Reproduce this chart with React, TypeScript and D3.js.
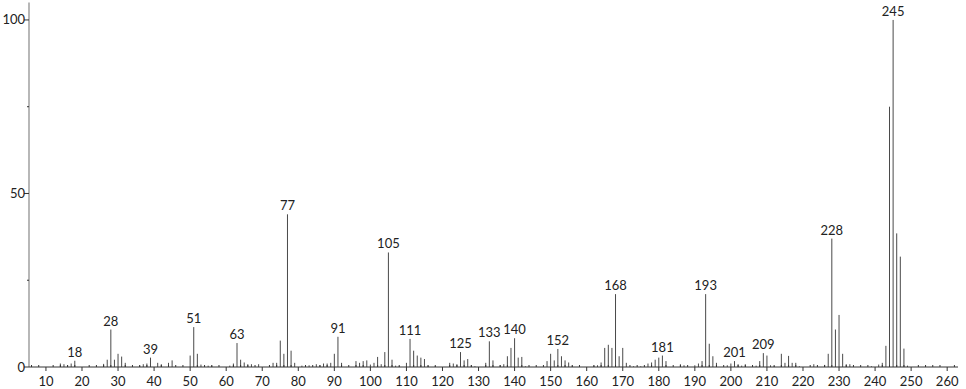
import React from "react";
import * as d3 from "d3";

const mzValues: number[] = [
  14, 15, 16, 17, 18,
  26, 27, 28, 29, 30, 31, 32,
  36, 37, 38, 39, 41, 42, 44, 45,
  50, 51, 52, 53, 55, 56,
  61, 62, 63, 64, 65, 66, 67, 69,
  73, 74, 75, 76, 77, 78, 79,
  81, 82, 83, 85, 86, 87, 88, 89, 90, 91, 92,
  96, 97, 98, 99, 100, 101, 102, 103, 104, 105, 106, 107, 108,
  110, 111, 112, 113, 114, 115, 116, 118,
  122, 123, 124, 125, 126, 127, 128, 129,
  132, 133, 134, 136, 137, 138, 139, 140, 141, 142, 143,
  149, 150, 151, 152, 153, 154, 155, 156,
  162, 163, 164, 165, 166, 167, 168, 169, 170, 171, 173, 175,
  177, 178, 179, 180, 181, 182,
  186, 187, 190, 191, 192, 193, 194, 195, 196,
  199, 200, 201, 202, 203, 204,
  207, 208, 209, 210, 211, 212,
  214, 215, 216, 217, 218, 219,
  223, 226, 227, 228, 229, 230, 231, 232, 233,
  239, 241, 242, 243, 244, 245, 246, 247, 248, 249,
];

const intensities: number[] = [
  1.0, 0.8, 0.5, 1.0, 1.8,
  0.9, 2.1, 10.8, 2.1, 3.8, 3.0, 1.2,
  0.4, 0.8, 1.0, 2.7, 1.2, 0.8, 1.2, 1.9,
  3.3, 11.5, 3.8, 0.7, 0.4, 0.4,
  0.4, 1.0, 6.9, 2.1, 1.3, 0.8, 0.8, 0.8,
  1.2, 1.2, 7.6, 3.8, 44, 4.7, 1.2,
  0.4, 0.5, 0.5, 0.8, 0.5, 1.0, 1.0, 1.2, 3.8, 8.7, 1.2,
  1.7, 1.2, 1.7, 1.9, 0.7, 1.2, 2.9, 0.8, 4.3, 33, 2.1, 0.4, 0.2,
  1.2, 8.1, 4.7, 3.3, 2.7, 2.3, 0.4, 0.2,
  1.2, 1.0, 0.8, 4.3, 1.9, 2.3, 0.5, 0.2,
  1.2, 7.4, 1.9, 0.5, 0.8, 3.1, 5.5, 8.3, 2.7, 2.9, 0.2,
  1.7, 3.8, 1.9, 5.2, 3.1, 1.9, 1.3, 0.4,
  0.4, 0.5, 1.3, 5.5, 6.4, 5.5, 21, 3.1, 5.5, 1.2, 0.2, 0.2,
  1.0, 1.3, 2.1, 2.7, 3.3, 1.7,
  0.8, 0.5, 0.5, 1.0, 1.7, 21, 6.7, 3.1, 1.2,
  0.5, 1.0, 1.7, 0.8, 0.4, 0.8,
  0.4, 1.7, 4.0, 3.3, 0.5, 0.2,
  3.8, 1.2, 3.2, 1.2, 1.2, 0.2,
  0.8, 0.6, 3.8, 37, 10.8, 15, 3.8, 0.8, 0.8,
  0.2, 0.7, 1.2, 6.1, 75, 100, 38.5, 31.8, 5.3, 0.4,
];

const labeledPeaks: number[] = [
  18, 28, 39, 51, 63, 77, 91, 105, 111, 125, 133, 140, 152, 168, 181, 193, 201, 209, 228, 245,
];

const xTickLabels: number[] = [10, 20, 30, 40, 50, 60, 70, 80, 90, 100, 110, 120, 130, 140, 150, 160, 170, 180, 190, 200, 210, 220, 230, 240, 250, 260];
const yTickLabels: number[] = [0, 50, 100];
const yMinorTicks: number[] = [25, 75];

const W = 966;
const H = 389;
const FONT = "Lato, 'Open Sans', sans-serif";

export default function App() {
  const x = d3.scaleLinear().domain([5.3, 263]).range([29, 958]);
  const y = d3.scaleLinear().domain([0, 105]).range([367, 2.6]);
  const y0 = y(0);
  const x0 = x.range()[0];

  const peaks = mzValues.map((m, i) => ({ m, v: intensities[i] }));
  const minorX = d3.range(6, 263, 2).filter((v) => v % 10 !== 0);

  return (
    <svg
      width={W}
      height={H}
      style={{ position: "absolute", left: 0, top: 0, background: "#fff" }}
      fontFamily={FONT}
    >
      <rect x={0} y={0} width={W} height={H} fill="#fff" />
      {/* peaks */}
      {peaks.map((p) => (
        <line
          key={p.m}
          x1={x(p.m)}
          x2={x(p.m)}
          y1={y0}
          y2={y(p.v)}
          stroke="#4a4a4a"
          strokeWidth={1}
        />
      ))}
      {/* peak labels */}
      {labeledPeaks.map((m) => {
        const p = peaks.find((q) => q.m === m);
        if (!p) return null;
        return (
          <text
            key={"l" + m}
            x={x(m)}
            y={y(p.v) - 4}
            textAnchor="middle"
            fontSize={13}
            fill="#222"
          >
            {m}
          </text>
        );
      })}
      {/* y axis */}
      <line x1={x0} x2={x0} y1={y0} y2={y.range()[1]} stroke="#888" strokeWidth={1.2} />
      {yTickLabels.map((t) => (
        <g key={"yt" + t}>
          <line x1={x0 - 5} x2={x0} y1={y(t)} y2={y(t)} stroke="#333" />
          <text x={x0 - 4} y={y(t) + 4.5} textAnchor="end" fontSize={13} fill="#222">
            {t}
          </text>
        </g>
      ))}
      {yMinorTicks.map((t) => (
        <line key={"ym" + t} x1={x0 - 2} x2={x0} y1={y(t)} y2={y(t)} stroke="#333" />
      ))}
      {/* x axis */}
      <line x1={x0} x2={x.range()[1]} y1={y0} y2={y0} stroke="#333" strokeWidth={1} />
      {minorX.map((t) => (
        <line key={"xm" + t} x1={x(t)} x2={x(t)} y1={y0} y2={y0 - 2} stroke="#333" />
      ))}
      {xTickLabels.map((t) => (
        <g key={"xt" + t}>
          <line x1={x(t)} x2={x(t)} y1={y0} y2={y0 + 4} stroke="#333" />
          <text x={x(t)} y={y0 + 19} textAnchor="middle" fontSize={13} fill="#222">
            {t}
          </text>
        </g>
      ))}
    </svg>
  );
}
